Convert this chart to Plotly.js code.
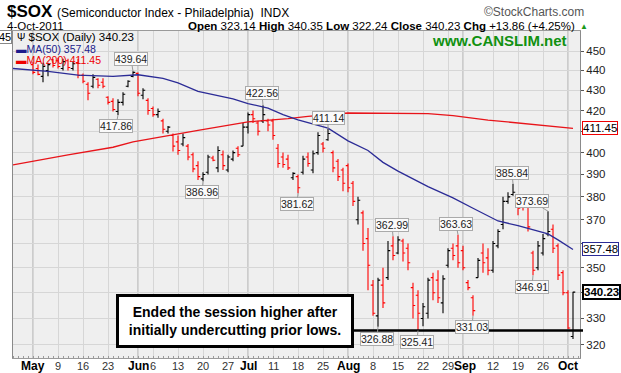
<!DOCTYPE html>
<html><head><meta charset="utf-8">
<script src="https://cdn.plot.ly/plotly-3.0.1.min.js"></script>
<style>html,body{margin:0;padding:0;background:#fff;}#chart{width:621px;height:373px;}</style>
</head><body><div id="chart"></div>
<script>
// ---------- DATA ----------
const tradingDays = [
 '2011-05-02','2011-05-03','2011-05-04','2011-05-05','2011-05-06','2011-05-09','2011-05-10','2011-05-11','2011-05-12','2011-05-13',
 '2011-05-16','2011-05-17','2011-05-18','2011-05-19','2011-05-20','2011-05-23','2011-05-24','2011-05-25','2011-05-26','2011-05-27',
 '2011-05-31','2011-06-01','2011-06-02','2011-06-03','2011-06-06','2011-06-07','2011-06-08','2011-06-09','2011-06-10','2011-06-13',
 '2011-06-14','2011-06-15','2011-06-16','2011-06-17','2011-06-20','2011-06-21','2011-06-22','2011-06-23','2011-06-24','2011-06-27',
 '2011-06-28','2011-06-29','2011-06-30','2011-07-01','2011-07-05','2011-07-06','2011-07-07','2011-07-08','2011-07-11','2011-07-12',
 '2011-07-13','2011-07-14','2011-07-15','2011-07-18','2011-07-19','2011-07-20','2011-07-21','2011-07-22','2011-07-25','2011-07-26',
 '2011-07-27','2011-07-28','2011-07-29','2011-08-01','2011-08-02','2011-08-03','2011-08-04','2011-08-05','2011-08-08','2011-08-09',
 '2011-08-10','2011-08-11','2011-08-12','2011-08-15','2011-08-16','2011-08-17','2011-08-18','2011-08-19','2011-08-22','2011-08-23',
 '2011-08-24','2011-08-25','2011-08-26','2011-08-29','2011-08-30','2011-08-31','2011-09-01','2011-09-02','2011-09-06','2011-09-07',
 '2011-09-08','2011-09-09','2011-09-12','2011-09-13','2011-09-14','2011-09-15','2011-09-16','2011-09-19','2011-09-20','2011-09-21',
 '2011-09-22','2011-09-23','2011-09-26','2011-09-27','2011-09-28','2011-09-29','2011-09-30','2011-10-03','2011-10-04'];

const openPrices = [
 443,441,437,440,445.5,445,441,445,441,444,
 437.5,433,432,435.5,434,426.5,424.5,419.5,424,432,
 437,438.5,427.5,425,421,418,415,410,408,405,
 404,403,399,394,388,391,397.5,393,399,392,
 397,402,403,412,418,414,415,415,415,402,
 398,397,388.5,389,391,398,392,400,404,406,
 400,396,392,394,386,370,373,362,343,331,
 343,346,359,356,361,358,342,339,330,332,
 346,345,336,351,358,359,357,344,338,346,
 356,354,349,359,368,378,381,379,379,377,
 356,350,356,364,366,359,348,340,323.14];
const highPrices = [
 444.5,443,444,444,446,446.5,446,446,444.5,446,
 438.5,434,438,436,436,427,426,425.5,429,435,
 439.64,439,431,426,422,421,416,412.5,409,408,
 409,404,400,396,391,399,398.5,403,401,399,
 401,403,414,419,420,415,422.56,416,416,404,
 400,399,391,390,398.5,400,401,409.5,405,411.14,
 401,397,393,395,387,380,374,366.5,345,346,
 350,361,362.99,363,362,360,344,341,336,346,
 348,349,347,358,360,363.63,359,345,339,354,
 360,358,361,366,380,382,385.84,380,380,378,
 357,361,364,373.69,368,360,349,341,340.35];
const lowPrices = [
 438,437.5,434,437,441.5,441,440,440,440,436,
 433.5,425,431,431,431,423,419.5,417.86,422.5,431.5,
 436.5,427,425.5,418,417,416.5,409,409,400.5,399,
 403,396.5,391,387.5,386.96,390,396,391,392,391,
 396,398,403,409,414,408,414,410,406,393,
 393,392,387.5,381.62,390,393.5,390.5,399,400,405.5,
 391,387,382.5,382,376,368,357,341,331,326.88,
 334,345,353,355.5,352.5,349,330,325.41,327,330,
 337,336,332,350,353,350,349,341,331.03,346,
 348,347,348,358,366,377,380.5,372,374,365,
 346.91,349,355,363,356,345,339,326,322.24];
const closePrices = [
 439,438,442,443,442.5,442,444.5,441.5,443.5,437.5,
 434.5,428.5,436.5,432.5,432,424,420.5,424,428,434.5,
 439,428.5,430,420,418,419.5,411,412,403,401,
 407,398,392.5,389,390,398,396.5,401,394,398,
 400,399,412,418,416,410,418,413,408,395,
 394.5,393,390.5,384,397,395,399.5,408,402,409,
 393,389,386,384,378,378.5,360,351,332,345,
 336,357,355,361.5,356,352,335,332,334.5,345,
 340,338,345.5,357,355,352,350,342,333,353,
 352,349,360,365,378,380,382,375,376,367,
 349,359,362,365,358,347,340,326.37,340.23];

// moving averages (day number relative to first bar, value)
const ma50Day    = [-4, 3, 9, 16, 21, 26, 29, 33, 40, 43, 47, 50, 53, 59, 63, 67, 70, 73, 79, 84, 88, 93, 97, 103, 105, 108];
const ma50Values = [441, 439.5, 437.6, 437, 437.8, 436, 433.7, 429.5, 425.7, 423.4, 421.2, 418, 415.5, 411.5, 405.5, 401, 395.5, 391.5, 384.5, 379.5, 375, 369.5, 367.5, 364, 361.5, 357.48];
const ma200Day    = [-4, 7, 16, 20, 33, 43, 51, 55, 63, 73, 79, 84, 91, 108];
const ma200Values = [394.3, 399, 402.5, 405, 410.5, 414.5, 416.1, 417.2, 418.8, 418.8, 418.5, 417.5, 415.4, 411.45];

const tickDates  = ['2011-05-02','2011-05-09','2011-05-16','2011-05-23','2011-06-01','2011-06-06','2011-06-13','2011-06-20','2011-06-27','2011-07-01','2011-07-11','2011-07-18','2011-07-25','2011-08-01','2011-08-08','2011-08-15','2011-08-22','2011-08-29','2011-09-01','2011-09-12','2011-09-19','2011-09-26','2011-10-03'];
const tickLabels = ['May','9','16','23','Jun','6','13','20','27','Jul','11','18','25','Aug','8','15','22','29','Sep','12','19','26','Oct'];
const yTickValues = [320,330,340,350,360,370,380,390,400,410,420,430,440,450];

const calloutDates  = ['2011-05-31','2011-05-25','2011-06-20','2011-07-07','2011-07-18','2011-07-26','2011-08-09','2011-08-12','2011-08-19','2011-08-31','2011-09-06','2011-09-16','2011-09-22','2011-09-27'];
const calloutValues = [439.64, 417.86, 386.96, 422.56, 381.62, 411.14, 326.88, 362.99, 325.41, 363.63, 331.03, 385.84, 346.91, 373.69];

const lastClose = 340.23, ma50Last = 357.48, ma200Last = 411.45;
const quoteDate = '4-Oct-2011', qOpen = 323.14, qHigh = 340.35, qLow = 322.24, qClose = 340.23, qChg = 13.86, qPct = 4.25;
const supportLevel = 325.41;
const noteText = 'Ended the session higher after<br>initially undercutting prior lows.';

// ---------- LAYOUT HELPERS ----------
const box = {l:13, r:580, t:31, b:358};
const px = X => (X - box.l) / (box.r - box.l);
const py = Y => (box.b - Y) / (box.b - box.t);
const FONT = 'Liberation Sans, Arial, sans-serif';
const idx = tradingDays.map((d, i) => i);
const dayIndex = d => tradingDays.indexOf(d);

const calloutOffsets = [[-2,-12],[-2,11],[-1,11],[-1,-12],[-1,11],[0,-11],[-1,12],[-1,-11],[-1,11],[-2,-11],[-1,11],[-1,-11],[-1,12],[-16,-10]];

const traces = [
  {type:'scatter', mode:'lines', x:ma200Day, y:ma200Values, line:{color:'#e8141a', width:1.3}, hoverinfo:'skip', showlegend:false},
  {type:'scatter', mode:'lines', x:ma50Day, y:ma50Values, line:{color:'#2b2b96', width:1.3}, hoverinfo:'skip', showlegend:false},
  {type:'ohlc', x:idx, open:openPrices, high:highPrices, low:lowPrices, close:closePrices,
   increasing:{line:{color:'#000000', width:1.1}}, decreasing:{line:{color:'#ff0000', width:1.1}},
   tickwidth:0.45, hoverinfo:'skip', showlegend:false}
];

const tickIdx = tickDates.map(dayIndex);
const isMonth = t => isNaN(+t);

const shapes = tickLabels.map((t, k) => isMonth(t) ? {
  type:'line', xref:'x', yref:'paper', x0:tickIdx[k], x1:tickIdx[k], y0:0, y1:1,
  line:{color:'#a9a9a9', width:1}, layer:'between'} : null).filter(Boolean);
shapes.push({type:'line', xref:'paper', yref:'y', x0:px(236), x1:px(583), y0:supportLevel, y1:supportLevel,
  line:{color:'#000', width:2.5}, layer:'above'});

const ann = [];
// x-axis labels (a month name right after a week label is nudged so they just touch)
tickLabels.forEach((t, k) => {
  const crowded = isMonth(t) && k > 0 && tickIdx[k] - tickIdx[k - 1] <= 3;
  ann.push({xref:'x', yref:'paper', x:tickIdx[k], y:py(366), xanchor:'center', yanchor:'middle', showarrow:false,
    xshift: crowded ? 2 : 0,
    text: isMonth(t) ? '<b>' + t + '</b>' : t,
    font:{family:FONT, size: isMonth(t) ? 12 : 11, color: isMonth(t) ? '#000' : '#333'}});
});
// header
ann.push({xref:'paper', yref:'paper', x:px(5), y:py(12), xanchor:'left', yanchor:'middle', showarrow:false,
  text:'<b>$SOX</b> <span style="font-size:12px">(Semiconductor Index - Philadelphia)  INDX</span>',
  font:{family:FONT, size:17, color:'#000'}});
ann.push({xref:'paper', yref:'paper', x:px(586), y:py(12), xanchor:'right', yanchor:'middle', showarrow:false,
  text:'©StockCharts.com', font:{family:FONT, size:12, color:'#555'}});
ann.push({xref:'paper', yref:'paper', x:px(5), y:py(26.5), xanchor:'left', yanchor:'middle', showarrow:false,
  text:quoteDate, font:{family:FONT, size:11.5, color:'#000'}});
ann.push({xref:'paper', yref:'paper', x:px(577), y:py(26.5), xanchor:'right', yanchor:'middle', showarrow:false,
  text:'<b>Open</b> ' + qOpen.toFixed(2) + ' <b>High</b> ' + qHigh.toFixed(2) + ' <b>Low</b> ' + qLow.toFixed(2) +
       ' <b>Close</b> ' + qClose.toFixed(2) + ' <b>Chg</b> +' + qChg.toFixed(2) + ' (+' + qPct.toFixed(2) + '%)',
  font:{family:FONT, size:11.5, color:'#000'}});
ann.push({xref:'paper', yref:'paper', x:px(578), y:py(26.5), xanchor:'left', yanchor:'middle', showarrow:false,
  text:'▲', font:{family:FONT, size:8, color:'#1a9a1a'}});
// cut-off left label
ann.push({xref:'paper', yref:'paper', x:px(12), y:py(36.5), xanchor:'right', yanchor:'middle', showarrow:false,
  text:'45', font:{family:FONT, size:11, color:'#000'}, bordercolor:'#888', borderwidth:1, borderpad:0, bgcolor:'#fff'});
// legend
ann.push({xref:'paper', yref:'paper', x:px(15), y:py(37.5), xanchor:'left', yanchor:'middle', showarrow:false,
  text:'<span style="font-size:10px">Ψ</span> $SOX (Daily) ' + lastClose.toFixed(2), font:{family:FONT, size:11.5, color:'#000'}});
ann.push({xref:'paper', yref:'paper', x:px(14), y:py(48.5), xanchor:'left', yanchor:'middle', showarrow:false,
  text:'<b>▬</b>MA(50) ' + ma50Last.toFixed(2), font:{family:FONT, size:10.5, color:'#1c1c8c'}});
ann.push({xref:'paper', yref:'paper', x:px(14), y:py(59.5), xanchor:'left', yanchor:'middle', showarrow:false,
  text:'<b>▬</b>MA(200) ' + ma200Last.toFixed(2), font:{family:FONT, size:10.5, color:'#ee0000'}});
// CANSLIM
ann.push({xref:'paper', yref:'paper', x:px(569), y:py(41), xanchor:'right', yanchor:'middle', showarrow:false,
  text:'<b>www.CANSLIM.net</b>', font:{family:FONT, size:15, color:'#119111'}});
// note box
ann.push({xref:'paper', yref:'paper', x:px(234.5), y:py(320.5), xanchor:'center', yanchor:'middle', showarrow:false,
  text:'<b>' + noteText + '</b>', font:{family:FONT, size:14, color:'#000'},
  bgcolor:'#ffffff', bordercolor:'#000', borderwidth:3, borderpad:0, width:232, height:48});
// callouts
calloutDates.forEach((d, k) => {
  ann.push({xref:'x', yref:'y', x:dayIndex(d), y:Math.log10(calloutValues[k]), text:calloutValues[k].toFixed(2),
    showarrow:true, arrowhead:0, arrowwidth:1, arrowcolor:'#999', ax:calloutOffsets[k][0], ay:calloutOffsets[k][1],
    font:{family:FONT, size:10.5, color:'#222'}, bgcolor:'#fafafa', bordercolor:'#aaa', borderwidth:1, borderpad:0});
});
// right tags (they cover the axis labels they sit on, as in the source)
const tagValues = [ma200Last, ma50Last, lastClose];
[[ma200Last,'#ee0000',false],[ma50Last,'#2b2b96',false],[lastClose,'#000',true]].forEach(([v,c,b]) => {
  ann.push({xref:'paper', yref:'y', x:1, y:Math.log10(v), xanchor:'left', yanchor:'middle', xshift:2, showarrow:false,
    text: b ? '<b>' + v.toFixed(2) + '</b>' : v.toFixed(2),
    font:{family:FONT, size:11.5, color:'#000'}, bgcolor:'#fff', bordercolor:c, borderwidth:b ? 2 : 1, borderpad:0});
});
const yTickText = yTickValues.map(v => tagValues.some(t => Math.abs(t - v) < 3) ? '' : String(v));

const layout = {
  width:621, height:373,
  margin:{l:box.l, r:621 - box.r, t:box.t, b:373 - box.b, pad:0},
  paper_bgcolor:'#ffffff', plot_bgcolor:'#efefef',
  showlegend:false,
  xaxis:{range:[(box.l - 33) / 5, (box.r - 33) / 5], tickmode:'array', tickvals:tickIdx, ticktext:tickLabels,
    showticklabels:false,
    showgrid:true, gridcolor:'#d6d6d6', gridwidth:1, zeroline:false, ticks:'',
    showline:true, mirror:true, linecolor:'#9a9a9a', linewidth:1,
    rangeslider:{visible:false}, fixedrange:true,
    minor:{ticks:'inside', ticklen:2, tickcolor:'#9a9a9a', dtick:1, tick0:0, showgrid:false}},
  yaxis:{type:'log', range:[Math.log10(315.2), Math.log10(460.6)], side:'right',
    tickmode:'array', tickvals:yTickValues, ticktext:yTickText,
    showgrid:true, gridcolor:'#d6d6d6', zeroline:false, ticks:'outside', ticklen:3, tickcolor:'#555',
    showline:true, mirror:true, linecolor:'#8a8a8a', linewidth:1,
    tickfont:{family:FONT, size:11.5, color:'#222'}, fixedrange:true},
  shapes:shapes,
  annotations:ann
};

Plotly.newPlot('chart', traces, layout, {displayModeBar:false, staticPlot:true});
</script>
</body></html>
